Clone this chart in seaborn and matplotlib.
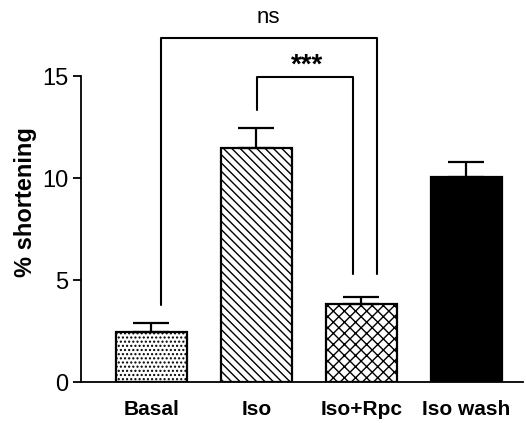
import matplotlib
matplotlib.use("Agg")
import matplotlib.pyplot as plt
import seaborn as sns
import pandas as pd
import numpy as np

groups = ["Basal", "Iso", "Iso+Rpc", "Iso wash"]
means = [2.45, 11.45, 3.82, 10.05]
sems = [0.44, 1.02, 0.36, 0.73]
hatches = ["....", "\\\\\\\\", "xxx", ""]
fills = ["white", "white", "white", "black"]

sns.set_style("ticks")
plt.rcParams["font.family"] = ["Liberation Sans", "DejaVu Sans"]
plt.rcParams["hatch.linewidth"] = 1.0
plt.rcParams["text.color"] = "black"
plt.rcParams["axes.labelcolor"] = "black"
plt.rcParams["xtick.color"] = "black"
plt.rcParams["ytick.color"] = "black"
plt.rcParams["axes.edgecolor"] = "black"

df = pd.DataFrame({"group": groups, "shortening": means})

fig = plt.figure(figsize=(5.26, 4.23), dpi=100)
ax = fig.add_axes([81 / 526, 41 / 423, 442 / 526, 382 / 423])

sns.barplot(data=df, x="group", y="shortening", order=groups, errorbar=None,
            width=0.676, ax=ax, color="white", edgecolor="black", linewidth=1.6)
for patch, h, fc in zip(ax.patches, hatches, fills):
    patch.set_facecolor(fc)
    patch.set_hatch(h)

xpos = np.arange(len(groups))
ax.errorbar(xpos, means, yerr=[np.zeros(len(sems)), sems], fmt="none",
            ecolor="black", elinewidth=1.6, capsize=13, capthick=1.6, zorder=3)

ax.set_xlim(-0.67, 3.54)
ax.set_ylim(0, 18.73)
ax.set_yticks([0, 5, 10, 15])
ax.tick_params(axis="y", labelsize=17, length=6, width=1.3, direction="out", pad=3)
ax.tick_params(axis="x", length=0, pad=13)
for lab in ax.get_xticklabels():
    lab.set_fontsize(15)
    lab.set_fontweight("bold")
ax.set_xlabel("")
ax.set_ylabel("% shortening", fontsize=17, fontweight="bold")
ax.yaxis.set_label_coords(-0.1, 0.47)

sns.despine(ax=ax)
ax.spines["left"].set_bounds(0, 15)
ax.spines["left"].set_linewidth(1.3)
ax.spines["bottom"].set_linewidth(1.3)

# significance brackets
def bracket(x1, x2, y1, y2, top, text, tx, ty, size):
    ax.plot([x1, x1, x2, x2], [y1, top, top, y2], color="black", lw=1.5,
            clip_on=False, zorder=4)
    return ax.text(tx, ty, text, ha="center", va="center", fontsize=size)

bracket(0.09, 2.15, 3.77, 5.29, 16.86, "ns", 1.11, 17.85, 16)
t = bracket(1.01, 1.92, 13.33, 5.29, 14.95, "***", 1.48, 15.5, 20)
t.set_fontweight("bold")

fig.savefig("out.png", dpi=100)
